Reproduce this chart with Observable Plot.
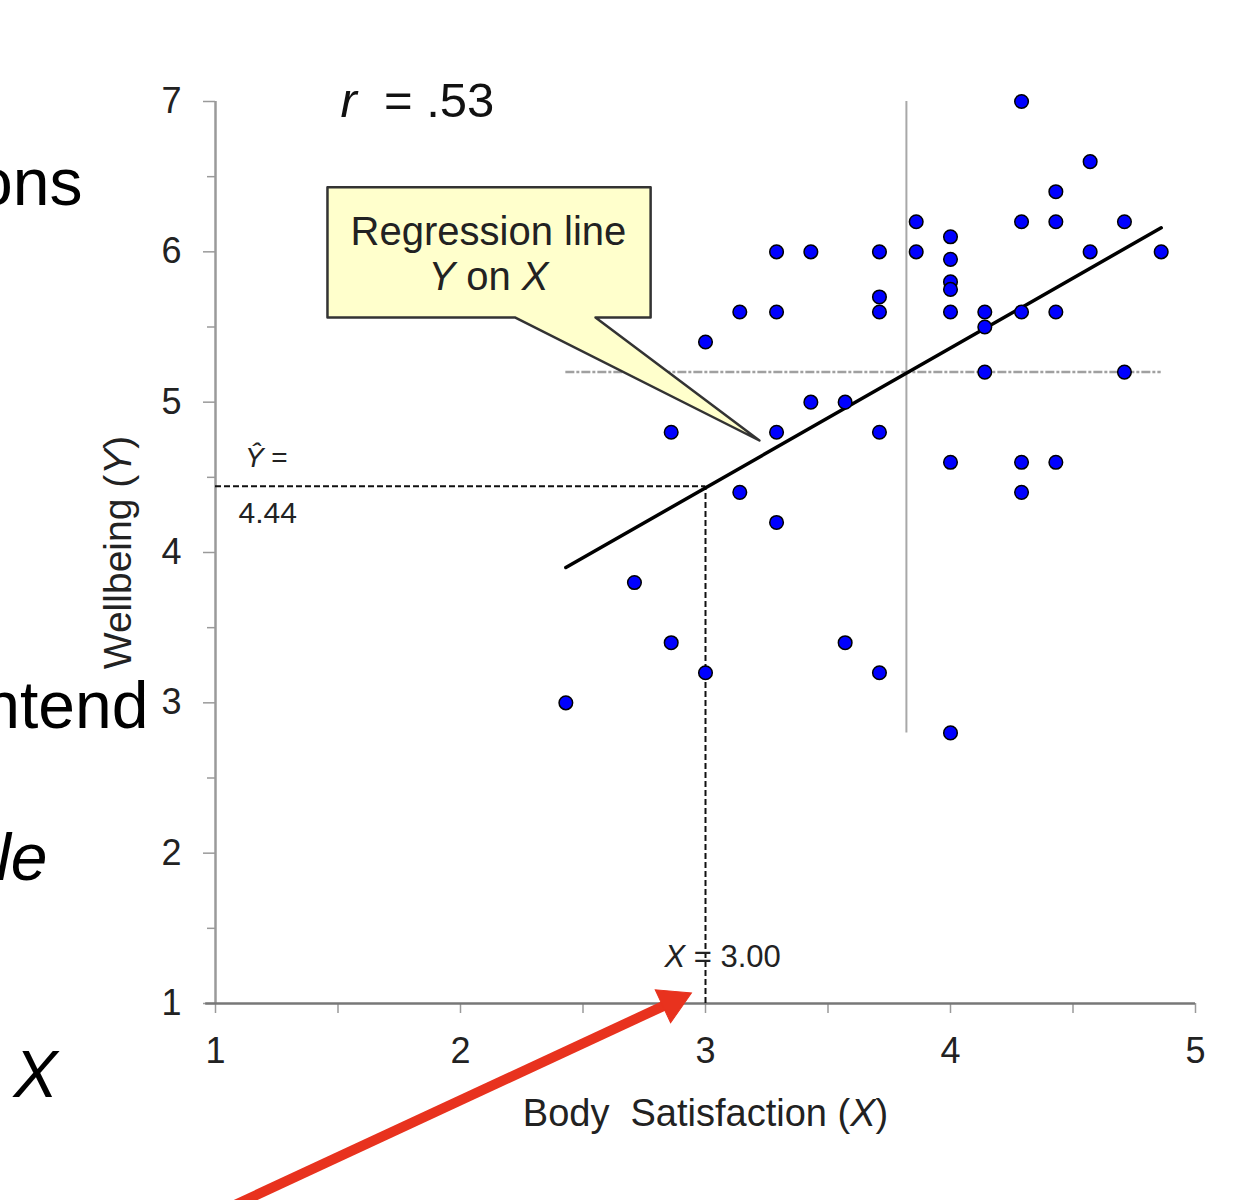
<!DOCTYPE html>
<html><head><meta charset="utf-8">
<script src="https://cdn.jsdelivr.net/npm/d3@7"></script>
<script src="https://cdn.jsdelivr.net/npm/@observablehq/plot@0.6"></script>
<style>
body{margin:0;background:#fff;}
#chart svg{display:block;}
</style>
</head><body><div id="chart"></div>
<script>
// ---- data ----
const bodySatisfaction = [
  2.43, 2.71, 2.86, 2.86, 3.00, 3.00, 3.14, 3.14, 3.29, 3.29, 3.29, 3.29,
  3.43, 3.43, 3.57, 3.57, 3.71, 3.71, 3.71, 3.71, 3.71, 3.86, 3.86,
  4.00, 4.00, 4.00, 4.00, 4.00, 4.00, 4.00, 4.14, 4.14, 4.14,
  4.29, 4.29, 4.29, 4.29, 4.29, 4.43, 4.43, 4.43, 4.43, 4.57, 4.57, 4.71, 4.71, 4.86
];
const wellbeing = [
  3.0, 3.8, 3.4, 4.8, 3.2, 5.4, 4.4, 5.6, 4.8, 4.2, 5.6, 6.0,
  6.0, 5.0, 5.0, 3.4, 3.2, 4.8, 5.6, 5.7, 6.0, 6.2, 6.0,
  6.1, 5.95, 5.8, 5.75, 5.6, 4.6, 2.8, 5.6, 5.5, 5.2,
  7.0, 6.2, 5.6, 4.6, 4.4, 6.4, 6.2, 5.6, 4.6, 6.6, 6.0, 6.2, 5.2, 6.0
];
const xTicks = [1, 2, 3, 4, 5];
const xMinorTicks = [1.5, 2.5, 3.5, 4.5];
const yTicks = [1, 2, 3, 4, 5, 6, 7];
const yMinorTicks = [1.5, 2.5, 3.5, 4.5, 5.5, 6.5];
const xLabel = "Body  Satisfaction (*X*)";
const yLabel = "Wellbeing (*Y*)";
const rLabel = "*r*  = .53";
const meanX = 3.82, meanY = 5.2;
const meanXSpan = [2.8, 7.0];      // y extent of vertical mean line
const meanYSpan = [2.43, 4.86];    // x extent of horizontal mean line
const regX = [2.43, 4.86];
const regY = [3.90, 6.16];
const predX = 3.00, predY = 4.44;
const predXLabel = "*X* = 3.00";
const predYLabel1 = "*Ŷ* =";
const predYLabel2 = "4.44";
// callout (speech bubble) outline in data units
const calloutX = [1.457, 2.776, 2.776, 2.551, 3.22, 2.224, 1.457];
const calloutY = [6.43, 6.43, 5.563, 5.563, 4.745, 5.563, 5.563];
const calloutLines = ["Regression line", "*Y* on *X*"];
const calloutTextX = [2.114, 2.114];
const calloutTextY = [6.129, 5.829];
// red arrow of the slide: shaft start, head centre
const arrowFrom = [1.04, -0.37];
const arrowHead = [2.865, 1.011];
// clipped slide text fragments at the left edge
const slideWords = ["ons", "ntend", "*le*", "*X*"];
const slideDx = [-133, -67, -168, -158];
const slideDy = [82, 605, 757, 974];

// ---- build tables ----
const points = bodySatisfaction.map((x, i) => ({x, y: wellbeing[i]}));
const callout = calloutX.map((x, i) => ({x, y: calloutY[i]}));
const calloutText = calloutLines.map((t, i) => ({t, x: calloutTextX[i], y: calloutTextY[i]}));
const reg = regX.map((x, i) => ({x, y: regY[i]}));
const slide = slideWords.map((t, i) => ({t, dx: slideDx[i], dy: slideDy[i]}));

const font = "'Liberation Sans', Arial, sans-serif";
const axisGray = "#9a9a9a";
const red = "#e8321e";

const chart = Plot.plot({
  width: 1239,
  height: 1200,
  marginLeft: 215,
  marginRight: 44,
  marginTop: 101,
  marginBottom: 197,
  style: {fontFamily: font, background: "#fff", overflow: "hidden"},
  x: {domain: [1, 5]},
  y: {domain: [1, 7]},
  marks: [
    // axes
    Plot.axisY({ticks: yMinorTicks, tickSize: 8, tickFormat: () => "", stroke: axisGray, strokeWidth: 1.5, label: null}),
    Plot.axisY({ticks: yTicks, tickSize: 12, tickPadding: 22, tickFormat: "d", fontSize: 36, color: "#222", stroke: axisGray, strokeWidth: 1.5, label: null}),
    Plot.axisX({ticks: xMinorTicks, tickSize: 10, tickFormat: () => "", stroke: axisGray, strokeWidth: 1.5, label: null}),
    Plot.axisX({ticks: xTicks, tickSize: 10, tickPadding: 24, tickFormat: "d", fontSize: 36, color: "#222", stroke: axisGray, strokeWidth: 1.5, label: null}),
    Plot.ruleX([1], {y1: 1, y2: 7, stroke: axisGray, strokeWidth: 2.5}),
    Plot.ruleY([1], {x1: 0.96, x2: 5, stroke: "#777", strokeWidth: 2.5}),
    // axis titles
    Plot.text([yLabel], {frameAnchor: "left", dx: -97, rotate: -90, textAnchor: "middle", lineAnchor: "middle", fontSize: 39, fill: "#222", text: d => d}),
    Plot.text([xLabel], {frameAnchor: "bottom", dy: 110, textAnchor: "middle", lineAnchor: "middle", fontSize: 38, fill: "#222", text: d => d}),
    Plot.text([rLabel], {x: 1.51, y: 7.0, textAnchor: "start", fontSize: 49, fill: "#111", text: d => d}),
    // mean lines
    Plot.ruleX([meanX], {y1: meanXSpan[0], y2: meanXSpan[1], stroke: "#a8a8a8", strokeWidth: 2}),
    Plot.ruleY([meanY], {x1: meanYSpan[0], x2: meanYSpan[1], stroke: "#a0a0a0", strokeWidth: 2.5, strokeDasharray: "9,2,3,2"}),
    // prediction guide lines
    Plot.ruleY([predY], {x1: 1, x2: predX, stroke: "#111", strokeWidth: 2, strokeDasharray: "6,3"}),
    Plot.ruleX([predX], {y1: 1, y2: predY, stroke: "#111", strokeWidth: 2, strokeDasharray: "6,3"}),
    Plot.text([predXLabel], {x: 3.07, y: 1.306, fontSize: 31, fill: "#222", text: d => d}),
    Plot.text([predYLabel1], {x: 1.12, y: 4.63, textAnchor: "start", fontSize: 28, fill: "#222", text: d => d}),
    Plot.text([predYLabel2], {x: 1.094, y: 4.26, textAnchor: "start", fontSize: 30, fill: "#222", text: d => d}),
    // callout
    Plot.line(callout, {x: "x", y: "y", curve: "linear-closed", fill: "#ffffcc", stroke: "#333", strokeWidth: 2.5}),
    Plot.text(calloutText, {x: "x", y: "y", text: "t", fontSize: 40, fill: "#222"}),
    // regression line
    Plot.line(reg, {x: "x", y: "y", stroke: "#000", strokeWidth: 3.5}),
    // data points
    Plot.dot(points, {x: "x", y: "y", r: 6.8, fill: "#0000ff", stroke: "#000", strokeWidth: 1.5}),
    // red arrow: shaft + filled triangular head
    Plot.link([0], {x1: arrowFrom[0], y1: arrowFrom[1], x2: arrowHead[0], y2: arrowHead[1], stroke: red, strokeWidth: 10}),
    Plot.dot([0], {x: arrowHead[0], y: arrowHead[1], symbol: "triangle", r: 13.5, rotate: 65, fill: red, stroke: red, strokeWidth: 1}),
    // slide text fragments
    Plot.text(slide, {frameAnchor: "top-left", text: "t", textAnchor: "end", lineAnchor: "middle", fontSize: 66, fill: "#000"})
  ]
});

// position slide fragments (dx/dy per datum)
{
  const texts = Array.from(chart.querySelectorAll("text")).filter(t => slideWords.includes(t.textContent));
  texts.forEach(t => {
    const i = slideWords.indexOf(t.textContent);
    const tr = t.getAttribute("transform") || "";
    t.setAttribute("transform", tr + ` translate(${slideDx[i]},${slideDy[i]})`);
  });
}

// italic segments marked with *...*, keep doubled spaces
chart.querySelectorAll("text").forEach(t => {
  if (t.children.length === 0 && t.textContent.includes("*")) {
    const parts = t.textContent.split("*");
    t.textContent = "";
    t.setAttribute("xml:space", "preserve");
    t.style.whiteSpace = "pre";
    parts.forEach((p, i) => {
      if (!p) return;
      const ts = document.createElementNS("http://www.w3.org/2000/svg", "tspan");
      ts.textContent = p;
      if (i % 2 === 1) ts.setAttribute("font-style", "italic");
      t.appendChild(ts);
    });
  }
});

document.getElementById("chart").appendChild(chart);
</script>
</body></html>
